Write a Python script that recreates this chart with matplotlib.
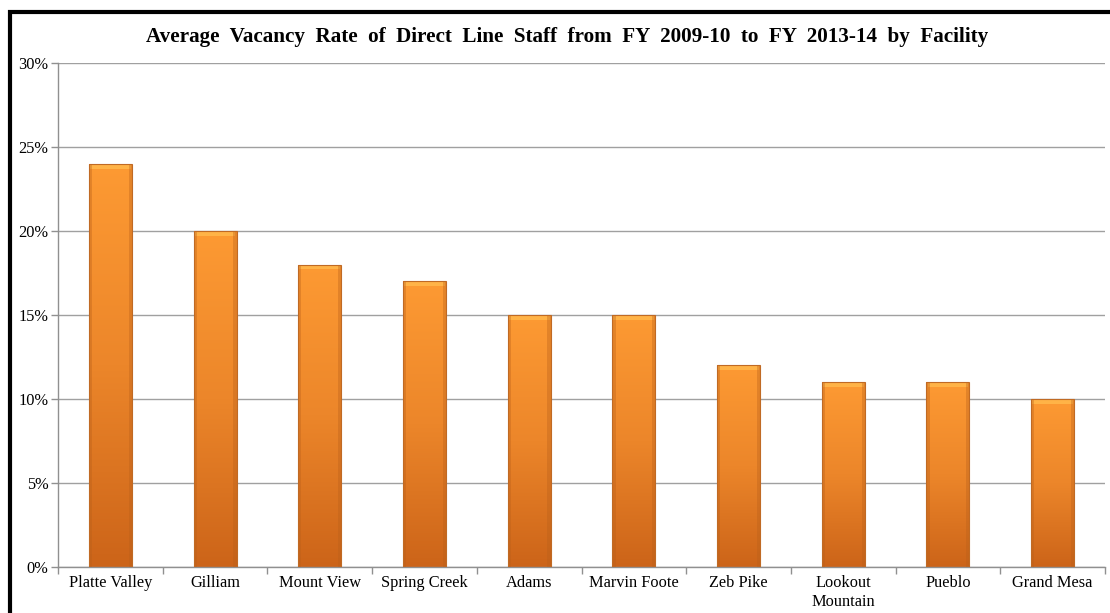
import numpy as np
import matplotlib
matplotlib.use("Agg")
import matplotlib.pyplot as plt
from matplotlib.colors import LinearSegmentedColormap
from matplotlib.patches import Rectangle
from matplotlib.ticker import PercentFormatter

facilities = ["Platte Valley", "Gilliam", "Mount View", "Spring Creek", "Adams",
              "Marvin Foote", "Zeb Pike", "Lookout\nMountain", "Pueblo", "Grand Mesa"]
vacancy_pct = [24, 20, 18, 17, 15, 15, 12, 11, 11, 10]
y_ticks = [0, 5, 10, 15, 20, 25, 30]
title = "Average  Vacancy  Rate  of  Direct  Line  Staff  from  FY  2009-10  to  FY  2013-14  by  Facility"

plt.rcParams["font.family"] = ["Liberation Serif", "DejaVu Serif"]

W, H = 1110, 613
fig = plt.figure(figsize=(W / 100, H / 100), dpi=100)
ax = fig.add_axes([58 / W, 1 - 567 / H, (1105 - 58) / W, (567 - 63) / H])

x = np.arange(len(facilities))
bar_w = 0.41
bars = ax.bar(x, vacancy_pct, width=bar_w, color="none", edgecolor="#c06a24",
              linewidth=0.8, zorder=3)

# vertical orange gradient, lighter at the top, clipped to each bar
cmap = LinearSegmentedColormap.from_list("orange", ["#cc6419", "#ec862a", "#fd9a33"])
grad = np.linspace(0, 1, 256).reshape(-1, 1)
for b, v in zip(bars, vacancy_pct):
    x0 = b.get_x()
    im = ax.imshow(grad, cmap=cmap, origin="lower", aspect="auto",
                   extent=(x0, x0 + bar_w, 0, v), zorder=2, interpolation="bilinear")
    im.set_clip_path(b)
    # bevelled top edge
    ax.add_patch(Rectangle((x0 + 0.01, v - 0.28), bar_w - 0.02, 0.22,
                           facecolor="#ffb347", edgecolor="none", zorder=2.5))
    # subtle side shading
    ax.add_patch(Rectangle((x0, 0), 0.03, v, facecolor="#b85f1a", alpha=0.35,
                           edgecolor="none", zorder=2.6))
    ax.add_patch(Rectangle((x0 + bar_w - 0.03, 0), 0.03, v, facecolor="#b85f1a",
                           alpha=0.35, edgecolor="none", zorder=2.6))

ax.set_xlim(-0.5, len(facilities) - 0.5)
ax.set_ylim(0, 30)
ax.set_yticks(y_ticks)
ax.yaxis.set_major_formatter(PercentFormatter(decimals=0))
ax.grid(axis="y", color="#a0a0a0", linewidth=1.0, zorder=0)
ax.set_axisbelow(True)

ax.set_xticks(np.arange(len(facilities) + 1) - 0.5, minor=False)
ax.set_xticklabels([])
ax.set_xticks(x, minor=True)
ax.set_xticklabels(facilities, minor=True, fontsize=11.8, linespacing=1.25)
ax.tick_params(axis="x", which="major", length=5, color="#909090", width=1)
ax.tick_params(axis="x", which="minor", length=0, pad=6)
ax.tick_params(axis="y", length=5, color="#909090", width=1, labelsize=11.8, pad=2)

for side in ["top", "right"]:
    ax.spines[side].set_visible(False)
for side in ["left", "bottom"]:
    ax.spines[side].set_color("#909090")
    ax.spines[side].set_linewidth(1)

fig.text(567 / W, 1 - 37 / H, title, ha="center", va="center",
         fontsize=15.2, fontweight="bold")

# outer frame (runs off the right and bottom edges)
fig.add_artist(Rectangle((10 / W, -0.05), 1.1, 1 - 12 / H + 0.05,
                         transform=fig.transFigure, fill=False,
                         edgecolor="black", linewidth=3))

fig.savefig("out.png", dpi=100)
